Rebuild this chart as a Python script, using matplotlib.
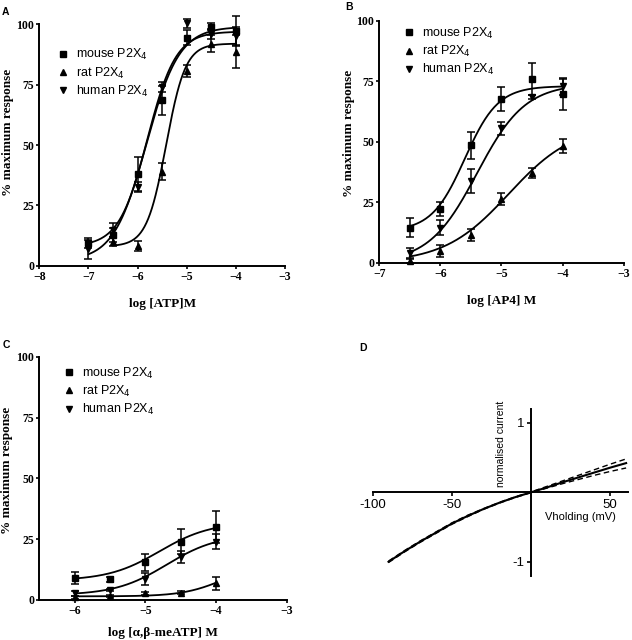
import numpy as np
import matplotlib
matplotlib.use('Agg')
import matplotlib.pyplot as plt

SERIF = 'Liberation Serif'
SANS = 'Liberation Sans'

species = ['mouse P2X$_4$', 'rat P2X$_4$', 'human P2X$_4$']
markers = ['s', '^', 'v']

# Panel A - ATP
logA = [-7, -6.5, -6, -5.5, -5, -4.5, -4]
a_mouse = [9.5, 12.7, 38, 68.6, 94.5, 99, 97.4]
a_mouse_err = [2, 3, 7, 6, 3, 1.5, 6]
a_rat_x = [-6.5, -6, -5.5, -5, -4.5, -4]
a_rat = [10, 8.3, 39, 80.7, 92, 88.7]
a_rat_err = [2, 2, 3.5, 2.5, 3.5, 7]
a_human = [6.8, 14.8, 32.7, 74, 100.4, 96, 95]
a_human_err = [4, 3, 2, 2, 2, 2, 4]
# fit params: bottom, top, logEC50, hill slope, x range
a_fits = [(8, 97, -5.8, 1.5, -7, -4),
          (8, 92, -5.42, 2.2, -6.5, -4),
          (2, 99, -5.82, 1.3, -7, -4)]

# Panel B - AP4
logB = [-6.5, -6, -5.5, -5, -4.5, -4]
b_mouse = [14.5, 22.2, 48.5, 67.6, 75.9, 69.6]
b_mouse_err = [4, 3, 5.5, 5, 6.5, 6.5]
b_rat = [0.7, 5, 11.3, 26.3, 37, 48.3]
b_rat_err = [1, 2.5, 2.5, 2.5, 2, 3]
b_human = [3.9, 14.5, 33.7, 55.5, 68.5, 73]
b_human_err = [2, 3, 5, 2.5, 1, 3.5]
b_fits = [(13, 73, -5.6, 1.6, -6.5, -4),
          (0, 57, -4.88, 0.82, -6.5, -4),
          (0, 74, -5.4, 1.1, -6.5, -4)]

# Panel C - alpha,beta-meATP
logC = [-6, -5.5, -5, -4.5, -4]
c_mouse = [8.9, 8.5, 15.5, 24, 29.9]
c_mouse_err = [2.5, 1, 3.5, 5, 6.5]
c_rat = [1.1, 1.6, 2.7, 3, 6.8]
c_rat_err = [0.5, 0.3, 0.5, 0.5, 2.5]
c_human = [2.7, 4.1, 8.6, 17.8, 24]
c_human_err = [1, 0.5, 2.5, 2.5, 3]
c_fits = [(8, 32, -4.8, 1.2, -6, -4),
          (1.5, 15, -3.9, 1.5, -6, -4),
          (2, 27, -4.7, 1.2, -6, -4)]

# Panel D - I/V relation
v_mv = [-90, -80, -70, -60, -50, -40, -30, -20, -10, 0, 10, 20, 30, 40, 50, 60]
i_mean = [-1.0, -0.85, -0.71, -0.58, -0.45, -0.34, -0.24, -0.15, -0.07, 0,
          0.07, 0.145, 0.215, 0.285, 0.355, 0.42]
i_upper = [-0.99, -0.84, -0.70, -0.57, -0.44, -0.33, -0.235, -0.145, -0.065, 0.005,
           0.085, 0.165, 0.245, 0.325, 0.405, 0.48]
i_lower = [-1.01, -0.86, -0.72, -0.59, -0.46, -0.35, -0.245, -0.155, -0.075, -0.005,
           0.06, 0.125, 0.185, 0.245, 0.30, 0.35]


def hill(x, bottom, top, logec50, slope):
    return bottom + (top - bottom) / (1 + 10 ** ((logec50 - x) * slope))


def dose_panel(ax, xs, ys, errs, fits, xlim, xticks, xlabel, leg_anchor, ylab_xy, xlab_y=-0.132):
    for x, y, e, fit, m, lab in zip(xs, ys, errs, fits, markers, species):
        b, t, ec, s, x0, x1 = fit
        xx = np.linspace(x0, x1, 200)
        ax.plot(xx, hill(xx, b, t, ec, s), color='black', lw=1.3)
        ax.errorbar(x, y, yerr=e, fmt=m, color='black', ms=5, capsize=3,
                    elinewidth=1.1, capthick=1.1, label=lab, clip_on=False)
    ax.set_xlim(*xlim)
    ax.set_ylim(0, 100)
    ax.set_xticks(xticks)
    ax.set_yticks([0, 25, 50, 75, 100])
    ax.spines['top'].set_visible(False)
    ax.spines['right'].set_visible(False)
    for sp in ['left', 'bottom']:
        ax.spines[sp].set_linewidth(1.4)
    ax.tick_params(direction='out', length=2.5, width=1.2, pad=1.2)
    for lbl in ax.get_xticklabels() + ax.get_yticklabels():
        lbl.set_fontfamily(SERIF)
        lbl.set_fontweight('bold')
        lbl.set_fontsize(8.5)
    ax.set_xlabel(xlabel, fontfamily=SERIF, fontweight='bold', fontsize=9.5)
    ax.set_ylabel('% maximum response', fontfamily=SERIF, fontweight='bold', fontsize=9.5)
    ax.xaxis.set_label_coords(0.5, xlab_y)
    ax.yaxis.set_label_coords(*ylab_xy)
    handles, labels = ax.get_legend_handles_labels()
    handles = [h[0] for h in handles]
    ax.legend(handles, labels, loc='upper left', bbox_to_anchor=leg_anchor,
              frameon=False, handlelength=0.8, handletextpad=0.65, labelspacing=0.25,
              prop={'family': SANS, 'size': 9}, borderaxespad=0)


fig = plt.figure(figsize=(6.32, 6.4), dpi=100)

axA = fig.add_axes([0.0622, 0.5848, 0.3888, 0.3772])
dose_panel(axA, [logA, a_rat_x, logA], [a_mouse, a_rat, a_human],
           [a_mouse_err, a_rat_err, a_human_err], a_fits,
           (-8, -3), [-8, -7, -6, -5, -4, -3], 'log [ATP]M', (0.054, 0.926),
           (-0.105, 0.554))

axB = fig.add_axes([0.600, 0.5895, 0.387, 0.378])
dose_panel(axB, [logB] * 3, [b_mouse, b_rat, b_human],
           [b_mouse_err, b_rat_err, b_human_err], b_fits,
           (-7, -3), [-7, -6, -5, -4, -3], 'log [AP4] M', (0.08, 1.0),
           (-0.10, 0.536))

axC = fig.add_axes([0.0622, 0.0625, 0.3914, 0.380])
dose_panel(axC, [logC] * 3, [c_mouse, c_rat, c_human],
           [c_mouse_err, c_rat_err, c_human_err], c_fits,
           (-6.5, -3), [-6, -5, -4, -3], 'log [\u03b1,\u03b2-meATP] M', (0.08, 0.985),
           (-0.105, 0.534), xlab_y=-0.112)

# Panel D
axD = fig.add_axes([0.5897, 0.1005, 0.4035, 0.2606])
axD.plot(v_mv, i_mean, color='black', lw=1.5)
axD.plot(v_mv, i_upper, color='black', lw=1.0, ls=(0, (4, 2.5)))
axD.plot(v_mv, i_lower, color='black', lw=1.0, ls=(0, (4, 2.5)))
axD.set_xlim(-100, 61)
axD.set_ylim(-1.2, 1.2)
for sp in ['top', 'right']:
    axD.spines[sp].set_visible(False)
axD.spines['left'].set_position(('data', 0))
axD.spines['bottom'].set_position(('data', 0))
for sp in ['left', 'bottom']:
    axD.spines[sp].set_linewidth(1.4)
axD.set_xticks([-100, -50, 50])
axD.set_xticklabels(['-100', '-50', '50'])
axD.set_yticks([-1, 1])
axD.set_yticklabels(['-1', '1'])
axD.tick_params(direction='out', length=3, width=1.2, pad=1.5, labelsize=9.5)
for lbl in axD.get_xticklabels() + axD.get_yticklabels():
    lbl.set_fontfamily(SANS)
axD.text(-19, 0.07, 'normalised current', rotation=90, ha='center', va='bottom',
         fontfamily=SANS, fontsize=7.5)
axD.text(31.4, -0.36, 'Vholding (mV)', ha='center', va='center',
         fontfamily=SANS, fontsize=8)

# panel letters
for lab, x, y in [('A', 0.003, 0.989), ('B', 0.547, 0.997), ('C', 0.004, 0.469), ('D', 0.568, 0.464)]:
    fig.text(x, y, lab, fontfamily=SANS, fontweight='bold', fontsize=7.5, va='top')

fig.savefig('out.png', dpi=100)
